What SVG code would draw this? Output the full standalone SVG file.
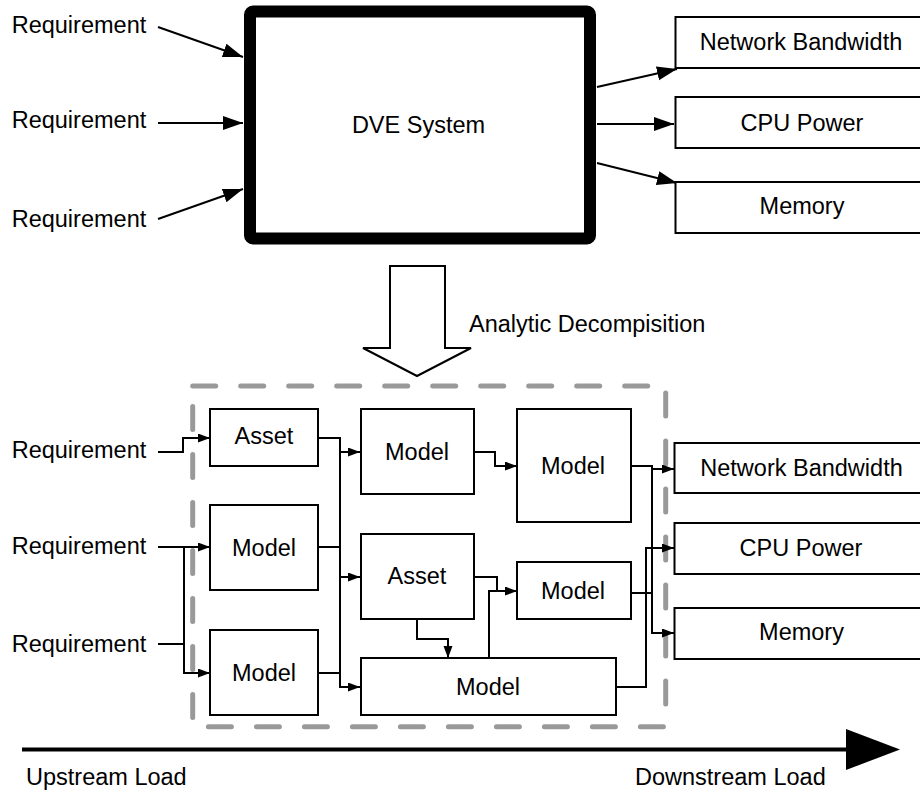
<svg xmlns="http://www.w3.org/2000/svg" width="920" height="791" viewBox="0 0 920 791">
<style>
text{font-family:"Liberation Sans",Arial,Helvetica,sans-serif;font-size:23.5px;fill:#000}
.c{text-anchor:middle}
.box{fill:#fff;stroke:#000;stroke-width:2}
.ln{fill:none;stroke:#000;stroke-width:2}
.ab{marker-end:url(#big)}
.as{marker-end:url(#small)}
</style>
<defs>
<marker id="big" markerUnits="userSpaceOnUse" markerWidth="21" markerHeight="15" refX="20" refY="7" orient="auto"><path d="M0,0 L20,7 L0,14 z" fill="#000"/></marker>
<marker id="small" markerUnits="userSpaceOnUse" markerWidth="13" markerHeight="10" refX="12" refY="4.5" orient="auto"><path d="M0,0 L12,4.5 L0,9 z" fill="#000"/></marker>
</defs>
<rect x="192.7" y="386" width="473" height="340.7" fill="none" stroke="#999" stroke-width="5" stroke-linecap="round" stroke-dasharray="23 25"/>
<g id="connectors">
<path class="ln ab" d="M158,27 L243,57"/>
<path class="ln ab" d="M158,123 L243,123"/>
<path class="ln ab" d="M158,219 L243,189"/>
<path class="ln ab" d="M597,87 L677,69"/>
<path class="ln ab" d="M597,124 L674,124"/>
<path class="ln ab" d="M597,163 L677,183"/>
<path class="ln as" d="M158,452 H183 V438 H210"/>
<path class="ln as" d="M158,547 H210"/>
<path class="ln" d="M158,644 H184"/>
<path class="ln as" d="M184,547 V673 H210"/>
<path class="ln as" d="M318,438 H340 V687 H360"/>
<path class="ln as" d="M340,452 H360"/>
<path class="ln as" d="M340,577 H360"/>
<path class="ln" d="M318,547 H340"/>
<path class="ln" d="M318,673 H340"/>
<path class="ln as" d="M474,452 H495 V466 H517"/>
<path class="ln as" d="M474,577 H497 V591 H517"/>
<path class="ln as" d="M417,619 V639 H448 V658"/>
<path class="ln" d="M489,658 V591 H505"/>
<path class="ln as" d="M631,466 H652 V633 H674"/>
<path class="ln as" d="M652,469 H674"/>
<path class="ln" d="M631,593 H652"/>
<path class="ln as" d="M616,687 H646 V548 H674"/>
<line x1="22" y1="749.5" x2="850" y2="749.5" stroke="#000" stroke-width="4"/>
<polygon points="846,729 900,749.5 846,770" fill="#000"/>
</g>
<g id="dve"><rect x="250" y="11.5" width="340" height="227" rx="3" fill="#fff" stroke="#000" stroke-width="12" stroke-linejoin="round"/><text class="c" x="418.5" y="133">DVE System</text></g>
<g id="req-t1"><text x="11.7" y="33.3">Requirement</text></g>
<g id="req-t2"><text x="11.7" y="128.3">Requirement</text></g>
<g id="req-t3"><text x="11.7" y="226.7">Requirement</text></g>
<g id="nb-t"><rect class="box" x="675.5" y="17" width="260" height="51"/><text class="c" x="801" y="50">Network Bandwidth</text></g>
<g id="cpu-t"><rect class="box" x="675.5" y="97" width="260" height="51"/><text class="c" x="802" y="130.5">CPU Power</text></g>
<g id="mem-t"><rect class="box" x="675.5" y="182" width="260" height="51"/><text class="c" x="802" y="214">Memory</text></g>
<g id="decomp"><polygon points="390,266 445,266 445,348 471,348 417,376 363,348 390,348" fill="#fff" stroke="#000" stroke-width="2"/><text x="469" y="332">Analytic Decompisition</text></g>
<g id="req-b1"><text x="11.7" y="458.3">Requirement</text></g>
<g id="req-b2"><text x="11.7" y="554">Requirement</text></g>
<g id="req-b3"><text x="11.7" y="652">Requirement</text></g>
<g id="asset1"><rect class="box" x="210" y="409" width="108" height="57"/><text class="c" x="264" y="444">Asset</text></g>
<g id="model2"><rect class="box" x="210" y="505" width="108" height="85"/><text class="c" x="264" y="555.5">Model</text></g>
<g id="model3"><rect class="box" x="210" y="630" width="108" height="85"/><text class="c" x="264" y="680.5">Model</text></g>
<g id="model-tm"><rect class="box" x="361" y="409" width="113" height="85"/><text class="c" x="417" y="459.5">Model</text></g>
<g id="model-tr"><rect class="box" x="517" y="409" width="114" height="113"/><text class="c" x="573" y="473.5">Model</text></g>
<g id="asset-m"><rect class="box" x="361" y="534" width="113" height="85"/><text class="c" x="417" y="584">Asset</text></g>
<g id="model-mr"><rect class="box" x="517" y="562" width="114" height="57"/><text class="c" x="573" y="598.5">Model</text></g>
<g id="model-b"><rect class="box" x="361" y="658" width="255" height="57"/><text class="c" x="488" y="695">Model</text></g>
<g id="nb-b"><rect class="box" x="674.5" y="443" width="260" height="50"/><text class="c" x="801.5" y="475.5">Network Bandwidth</text></g>
<g id="cpu-b"><rect class="box" x="674.5" y="523" width="260" height="51"/><text class="c" x="801" y="556">CPU Power</text></g>
<g id="mem-b"><rect class="box" x="674.5" y="608" width="260" height="51"/><text class="c" x="801.5" y="640">Memory</text></g>
<g id="loads"><text x="26" y="785">Upstream Load</text><text x="635" y="785">Downstream Load</text></g>
</svg>
